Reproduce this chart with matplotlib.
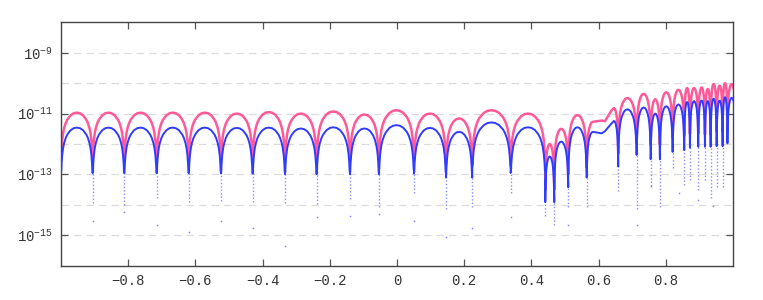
import matplotlib
matplotlib.use("Agg")
import matplotlib.pyplot as plt

# zero crossings of the two error curves
DIPS = [-1.0, -0.9057, -0.8116, -0.7152, -0.6199, -0.5238, -0.4295, -0.3333,
        -0.2390, -0.1399, -0.0536, 0.0506, 0.1458, 0.2241, 0.3384, 0.4414,
        0.4682, 0.5098, 0.5646, 0.6586, 0.7134, 0.7551, 0.7827, 0.8205,
        0.8551, 0.8720, 0.8967, 0.9167, 0.9336, 0.9515, 0.9693, 0.9836, 1.009]

# log10 of the maximum of each arch between consecutive dips (None = shoulder)
BLUE_PEAKS = [-11.46, -11.46, -11.46, -11.46, -11.46, -11.47, -11.46, -11.49,
              -11.45, -11.49, -11.38, -11.47, -11.60, -11.29, -11.45, -12.41,
              -11.92, -11.45, None, -10.86, -10.80, -11.00, -10.76, -10.70,
              -10.62, -10.59, -10.57, -10.59, -10.51, -10.57, -10.46, -10.48]
PINK_PEAKS = [-10.97, -10.97, -10.97, -10.97, -10.97, -11.00, -10.95, -11.00,
              -10.93, -11.03, -10.89, -11.00, -11.16, -10.89, -11.00, -12.00,
              -11.50, -11.05, None, -10.49, -10.35, -10.53, -10.30, -10.22,
              -10.16, -10.16, -10.14, -10.19, -10.03, -10.08, -10.00, -10.03]

# the flat-topped arch between 0.5646 and 0.6586
SHOULDER_X = [0.5833, 0.6092, 0.6190, 0.6390, 0.6458]
SHOULDER_BLUE = [-11.60, -11.65, -11.58, -11.32, -11.24]
SHOULDER_PINK = [-11.27, -11.23, -11.25, -10.89, -10.82]

# shape of one half arch (fraction of arch width -> drop in decades)
PROFILE_T = [0.0, 0.01, 0.02, 0.04, 0.07, 0.1, 0.15, 0.2, 0.3, 0.4, 0.5]
PROFILE_DROP = [-1.50, -1.42, -1.18, -0.90, -0.66, -0.51, -0.34, -0.23,
                -0.09, -0.02, 0.0]

# faint sample points below each dip: dense column bottom, lone outliers
COL_X = [-0.9057, -0.8116, -0.7152, -0.6199, -0.5238, -0.4295, -0.3333,
         -0.2390, -0.1399, -0.0536, 0.0506, 0.1458, 0.2241, 0.3384, 0.4414,
         0.4682, 0.5098, 0.5646, 0.6586, 0.7134, 0.7551, 0.7827, 0.8205,
         0.8551, 0.8720, 0.8967, 0.9167, 0.9336, 0.9515, 0.9693]
COL_BOTTOM = [-13.95, -14.00, -13.79, -13.92, -13.87, -13.89, -13.95, -13.98,
              -13.81, -14.08, -13.60, -14.14, -14.08, -13.60, -14.36, -14.66,
              -14.08, -14.08, -13.55, -14.14, -13.38, -14.08, -12.79, -13.36,
              -13.19, -13.51, -13.17, -13.79, -13.40, -13.40]
OUT_X = [-0.9057, -0.8116, -0.7152, -0.6199, -0.5238, -0.4295, -0.3333,
         -0.2390, -0.1399, -0.0536, 0.0506, 0.1458, 0.2241, 0.3384, 0.5098,
         0.7134, 0.7551, 0.8390, 0.8967, 0.9420]
OUT_LOG = [-14.52, -14.25, -14.66, -14.88, -14.52, -14.76, -15.35, -14.41,
           -14.38, -14.30, -14.52, -15.06, -14.76, -14.41, -14.66, -14.66,
           -13.38, -13.60, -13.85, -14.05]

XTICKS = [-0.8, -0.6, -0.4, -0.2, 0.0, 0.2, 0.4, 0.6, 0.8]
XLABELS = ["\u22120.8", "\u22120.6", "\u22120.4", "\u22120.2", "0",
           "0.2", "0.4", "0.6", "0.8"]
YTICKS = [1e-15, 1e-13, 1e-11, 1e-9]
YLABELS = [r"$\mathregular{10^{-15}}$", r"$\mathregular{10^{-13}}$",
           r"$\mathregular{10^{-11}}$", r"$\mathregular{10^{-9}}$"]
GRID_DECADES = [-15, -14, -13, -12, -11, -10, -9]


def build(peaks, shoulder):
    xs, ys = [], []
    for i, val in enumerate(peaks):
        a, b = DIPS[i], DIPS[i + 1]
        if val is None:
            px, pv = SHOULDER_X, shoulder
        else:
            px, pv = [(a + b) / 2], [val]
        # rising side
        for t, d in zip(PROFILE_T, PROFILE_DROP):
            xs.append(a + (t / 0.5) * (px[0] - a))
            ys.append(10 ** (pv[0] + d))
        for x, v in zip(px[1:], pv[1:]):
            xs.append(x)
            ys.append(10 ** v)
        # falling side
        for t, d in zip(PROFILE_T[::-1][1:], PROFILE_DROP[::-1][1:]):
            xs.append(b - (t / 0.5) * (b - px[-1]))
            ys.append(10 ** (pv[-1] + d))
    return xs, ys


plt.rcParams["font.family"] = ["Liberation Mono", "DejaVu Sans Mono"]
plt.rcParams["mathtext.default"] = "regular"

fig = plt.figure(figsize=(7.63, 3.0), dpi=100)
ax = fig.add_axes([0.0799, 0.1143, 0.8807, 0.8113])

for k in GRID_DECADES:
    ax.axhline(10.0 ** k, color="#dcdcdc", lw=0.9, ls=(0, (6, 4)), zorder=0)

for x, bot in zip(COL_X, COL_BOTTOM):
    i = DIPS.index(x)
    left = BLUE_PEAKS[i - 1] if BLUE_PEAKS[i - 1] is not None else SHOULDER_BLUE[-1]
    right = BLUE_PEAKS[i] if BLUE_PEAKS[i] is not None else SHOULDER_BLUE[0]
    top = min(left, right) - 1.3
    ax.vlines(x, 10 ** bot, 10 ** top, colors="#5c5cff", alpha=0.7,
              lw=1.0, linestyles=(0, (1, 1.5)), zorder=1)
ax.scatter(OUT_X, [10 ** v for v in OUT_LOG], s=1.5, color="#6a6aff",
           alpha=0.8, lw=0, zorder=1)

px, py = build(PINK_PEAKS, SHOULDER_PINK)
bx, by = build(BLUE_PEAKS, SHOULDER_BLUE)
ax.plot(px, py, color="#ff5a98", lw=1.8, zorder=2)
ax.plot(bx, by, color="#2f3cff", lw=1.4, zorder=3)

ax.set_yscale("log")
ax.set_xlim(-1, 1)
ax.set_ylim(1e-16, 1e-8)
ax.set_xticks(XTICKS)
ax.set_xticklabels(XLABELS)
ax.set_yticks(YTICKS)
ax.set_yticklabels(YLABELS)
ax.yaxis.set_minor_locator(matplotlib.ticker.NullLocator())
ax.tick_params(direction="in", length=5, width=0.9, color="#555555",
               top=True, right=True, labelsize=10, labelcolor="#333333",
               pad=6)
for s in ax.spines.values():
    s.set_color("#444444")
    s.set_linewidth(1.0)

fig.savefig("out.png", dpi=100)
